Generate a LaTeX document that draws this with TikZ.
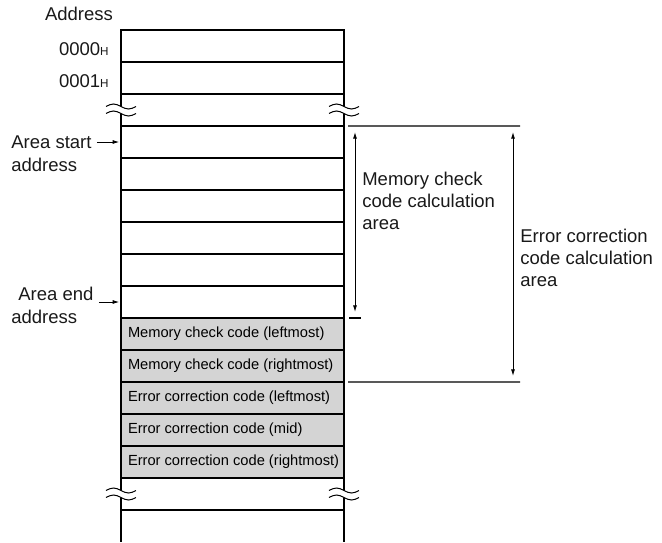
\documentclass[tikz,border=0pt]{standalone}
\usepackage{fontspec}
\setmainfont{Liberation Sans}
\usetikzlibrary{arrows.meta}

\begin{document}
\begin{tikzpicture}[x=0.6pt,y=-0.6pt,
    cell/.style={draw,line width=0.75pt,minimum width=133.8pt,minimum height=19.2pt,inner sep=0pt,outer sep=0pt},
    code/.style={cell,fill=black!17,font=\fontsize{8.8}{10}\selectfont,inner xsep=4.2pt},
    lbl/.style={inner sep=0pt,font=\fontsize{11.1}{13.2}\selectfont,text=black!90},
    rule/.style={line width=0.65pt},
    ptr/.style={-{Latex[length=4pt,width=2.4pt]},line width=0.55pt,shorten <=3pt,shorten >=1pt},
    dim/.style={{Latex[length=4pt,width=2.4pt]}-{Latex[length=4pt,width=2.4pt]},line width=0.55pt,shorten <=3.6pt,shorten >=3.6pt},
    brk/.pic={
      \fill[white] (-15,-3.5) sin (-7.5,-6) cos (0,-3.5) sin (7.5,-1) cos (15,-3.5) -- (15,3.5) sin (7.5,6) cos (0,3.5) sin (-7.5,1) cos (-15,3.5) -- cycle;
      \draw[line width=0.6pt] (-15,-3.5) sin (-7.5,-6) cos (0,-3.5) sin (7.5,-1) cos (15,-3.5);
      \draw[line width=0.6pt] (-15,3.5) sin (-7.5,1) cos (0,3.5) sin (7.5,6) cos (15,3.5);
    }]
   \useasboundingbox (0,0) rectangle (662,542);
   % memory rows
   \foreach \i in {1,...,9,15}
     \node[cell] (r\i) at (232.5,{14+32*\i}) {};
   \foreach \i/\t in {10/Memory check code (leftmost),11/Memory check code (rightmost),12/Error correction code (leftmost),13/Error correction code (mid),14/Error correction code (rightmost)}
     \node[code] (r\i) at (232.5,{14+32*\i}) {\makebox[125.4pt][l]{\t}};
   \draw[line width=0.75pt] (r15.south west) -- ++(0,32) (r15.south east) -- ++(0,32);
   \pic at (r3.west) {brk};
   \pic at (r3.east) {brk};
   \pic at (r15.west) {brk};
   \pic at (r15.east) {brk};
   % addresses
   \node[lbl] (addr) at (79,14) {Address};
   \node[lbl,anchor=east] (h0) at (109,49) {0000{\fontsize{7}{8}\selectfont H}};
   \node[lbl,anchor=east] (h1) at (109,81) {0001{\fontsize{7}{8}\selectfont H}};
   \node[lbl,anchor=west] (astart) at (11,142) {Area start};
   \node[lbl,anchor=base west] (astart2) at (11,171) {address};
   \node[lbl,anchor=base west] (aend) at (18,300) {Area end};
   \node[lbl,anchor=base west] (aend2) at (11,323) {address};
   \draw[ptr] (astart.east) -- (astart.east -| r4.west);
   \draw[ptr] ([yshift=-1.2pt]aend.base east) -- ([yshift=-1.2pt]aend.base east -| r9.west);
   % calculation areas
   \coordinate (ecA) at (520,126);
   \coordinate (ecB) at (520,382);
   \draw[rule] ([xshift=2.4pt]r4.north east) -- (ecA);
   \draw[rule] ([xshift=2.4pt]r11.south east) -- (ecB);
   \draw[rule] ([xshift=3pt]r9.south east) -- ++(12,0);
   \draw[dim] ([xshift=6.6pt]r4.north east) -- ([xshift=6.6pt]r9.south east);
   \draw[dim] ([xshift=-4.2pt]ecA) -- ([xshift=-4.2pt]ecB);
   \node[lbl,anchor=north west,align=left] (mctxt) at (362,172) {Memory check\\code calculation\\area};
   \node[lbl,anchor=north west,align=left] (ectxt) at (520,229) {Error correction\\code calculation\\area};
  \end{tikzpicture}
\end{document}
